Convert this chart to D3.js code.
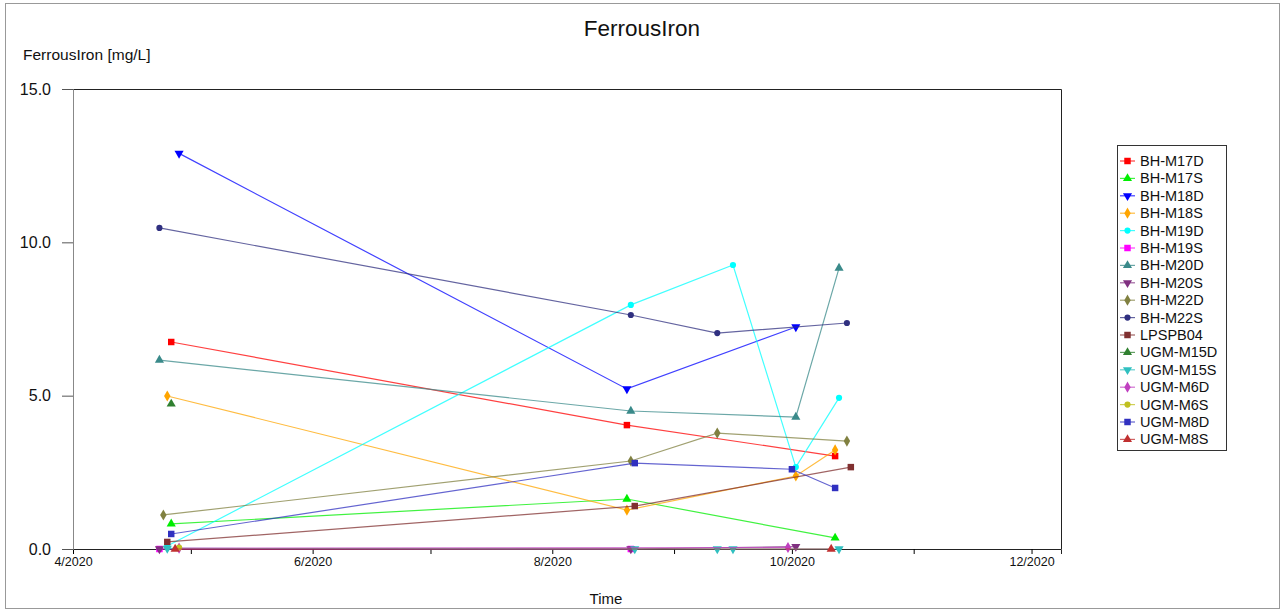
<!DOCTYPE html>
<html><head><meta charset="utf-8">
<script src="https://cdn.jsdelivr.net/npm/d3@7/dist/d3.min.js"></script>
<style>
body{margin:0;background:#fff;}
svg{display:block;font-family:Arial,"Liberation Sans",sans-serif;}
</style></head>
<body><svg id="c" width="1284" height="612"></svg>
<script>
const seriesNames = ["BH-M17D","BH-M17S","BH-M18D","BH-M18S","BH-M19D","BH-M19S","BH-M20D","BH-M20S","BH-M22D","BH-M22S","LPSPB04","UGM-M15D","UGM-M15S","UGM-M6D","UGM-M6S","UGM-M8D","UGM-M8S"];
const seriesColors = ["#ff0000","#00ee00","#0000ff","#ffa500","#00ffff","#ff00ff","#3a8a8a","#803080","#808040","#303080","#803030","#308030","#30c0c0","#c040c0","#c0c020","#3030c0","#c03030"];
const seriesShapes = ["square","triangle","down","diamond","circle","square","triangle","down","diamond","circle","square","triangle","down","diamond","circle","square","triangle"];
const BH_M17D = [["2020-04-26",6.75],["2020-08-20",4.04],["2020-10-12",3.03]];
const BH_M17S = [["2020-04-26",0.82],["2020-08-20",1.63],["2020-10-12",0.36]];
const BH_M18D = [["2020-04-28",12.9],["2020-08-20",5.22],["2020-10-02",7.24]];
const BH_M18S = [["2020-04-25",4.99],["2020-08-20",1.27],["2020-10-02",2.38],["2020-10-12",3.23]];
const BH_M19D = [["2020-04-25",0.1],["2020-08-21",7.96],["2020-09-16",9.26],["2020-10-02",2.67],["2020-10-13",4.93]];
const BH_M19S = [["2020-04-23",0.0],["2020-08-21",0.0]];
const BH_M20D = [["2020-04-23",6.16],["2020-08-21",4.5],["2020-10-02",4.3],["2020-10-13",9.16]];
const BH_M20S = [["2020-04-23",0.0],["2020-08-21",0.0],["2020-10-02",0.08]];
const BH_M22D = [["2020-04-24",1.11],["2020-08-21",2.87],["2020-09-12",3.78],["2020-10-15",3.52]];
const BH_M22S = [["2020-04-23",10.47],["2020-08-21",7.63],["2020-09-12",7.04],["2020-10-15",7.37]];
const LPSPB04 = [["2020-04-25",0.23],["2020-08-22",1.4],["2020-10-16",2.67]];
const UGM_M15D = [["2020-04-26",4.73]];
const UGM_M15S = [["2020-04-25",0.02],["2020-08-22",0.0],["2020-09-12",0.0],["2020-09-16",0.0],["2020-10-13",0.0]];
const UGM_M6D = [["2020-04-28",0.03],["2020-09-30",0.05]];
const UGM_M6S = [["2020-04-28",0.05]];
const UGM_M8D = [["2020-04-26",0.49],["2020-08-22",2.8],["2020-10-01",2.6],["2020-10-12",1.99]];
const UGM_M8S = [["2020-04-27",0.0],["2020-10-11",0.0]];
const seriesData = [BH_M17D,BH_M17S,BH_M18D,BH_M18S,BH_M19D,BH_M19S,BH_M20D,BH_M20S,BH_M22D,BH_M22S,LPSPB04,UGM_M15D,UGM_M15S,UGM_M6D,UGM_M6S,UGM_M8D,UGM_M8S];
const yTicks = [0,5,10,15];
const xTickLabels = ["4/2020","6/2020","8/2020","10/2020","12/2020"];

const svg = d3.select("#c");
const parse = d3.timeParse("%Y-%m-%d");
const L=73,R=1061,T=89,B=549;
const x = d3.scaleTime().domain([new Date(2020,3,1), new Date(2020,11,8,12)]).range([L,R]);
const y = d3.scaleLinear().domain([0,15]).range([B,T]);

// outer frame
svg.append("rect").attr("x",5.5).attr("y",3.5).attr("width",1274).attr("height",605).attr("fill","none").attr("stroke","#999").attr("stroke-width",1);

// plot frame
svg.append("path").attr("d",`M${L},${T}.5H${R}.5V${B}`).attr("fill","none").attr("stroke","#222").attr("stroke-width",1);

// axes
const xAxisMajor = d3.axisBottom(x).tickValues(xTickLabels.map(s=>{const [m,yy]=s.split("/");return new Date(+yy,+m-1,1);}))
  .tickFormat((d,i)=>xTickLabels[i]).tickSize(5).tickPadding(3);
const gx = svg.append("g").attr("transform",`translate(0,${B})`).call(xAxisMajor);
gx.select(".domain").attr("stroke","#222");
gx.selectAll("text").attr("font-size",12.5).attr("fill","#111").attr("font-family","Arial,'Liberation Sans',sans-serif");
const minor = d3.axisBottom(x).tickValues([5,7,9,11].map(m=>new Date(2020,m-1,1))).tickFormat("").tickSize(5);
const gxm = svg.append("g").attr("transform",`translate(0,${B})`).call(minor);
gxm.select(".domain").remove();

const gy = svg.append("g").attr("transform",`translate(${L},0)`).call(d3.axisLeft(y).tickValues(yTicks).tickFormat(d3.format(".1f")).tickSize(11).tickPadding(11));
gy.select(".domain").attr("stroke","#888");
gy.selectAll(".tick line").attr("stroke","#555");
gy.selectAll("text").attr("font-size",16).attr("fill","#111").attr("font-family","Arial,'Liberation Sans',sans-serif");

// titles
svg.append("text").attr("x",642).attr("y",36).attr("text-anchor","middle").attr("font-size",22.5).attr("fill","#111").text("FerrousIron");
svg.append("text").attr("x",23).attr("y",60).attr("font-size",15.5).attr("fill","#111").text("FerrousIron [mg/L]");
svg.append("text").attr("x",606).attr("y",604).attr("text-anchor","middle").attr("font-size",15).attr("fill","#111").text("Time");

const sym = {
  square: d3.symbol().type(d3.symbolSquare).size(42),
  triangle: d3.symbol().type(d3.symbolTriangle).size(36),
  down: d3.symbol().type(d3.symbolTriangle).size(36),
  diamond: d3.symbol().type(d3.symbolDiamond).size(36),
  circle: d3.symbol().type(d3.symbolCircle).size(30)
};
function marker(g, shape, color, cx, cy){
  g.append("path").attr("d",sym[shape]()).attr("fill",color)
   .attr("transform",`translate(${cx},${cy})`+(shape==="down"?" rotate(180)":""));
}

const line = d3.line().x(d=>x(parse(d[0]))).y(d=>y(d[1]));
const plot = svg.append("g");
seriesData.forEach((data,i)=>{
  const g = plot.append("g");
  g.append("path").attr("d",line(data)).attr("fill","none").attr("stroke",seriesColors[i]).attr("stroke-width",1.2).attr("stroke-opacity",0.75);
  data.forEach(d=>marker(g,seriesShapes[i],seriesColors[i],x(parse(d[0])),y(d[1])));
});

// legend
const lg = svg.append("g");
lg.append("rect").attr("x",1117.5).attr("y",145.5).attr("width",109).attr("height",305).attr("fill","none").attr("stroke","#333");
seriesNames.forEach((n,i)=>{
  const yy = 161 + i*17.4;
  lg.append("line").attr("x1",1120).attr("x2",1135).attr("y1",yy).attr("y2",yy).attr("stroke",seriesColors[i]).attr("stroke-width",1.2).attr("stroke-opacity",0.75);
  marker(lg, seriesShapes[i], seriesColors[i], 1127.5, yy);
  lg.append("text").attr("x",1140).attr("y",yy+5).attr("font-size",14.5).attr("fill","#111").text(n);
});
</script>
</body></html>
